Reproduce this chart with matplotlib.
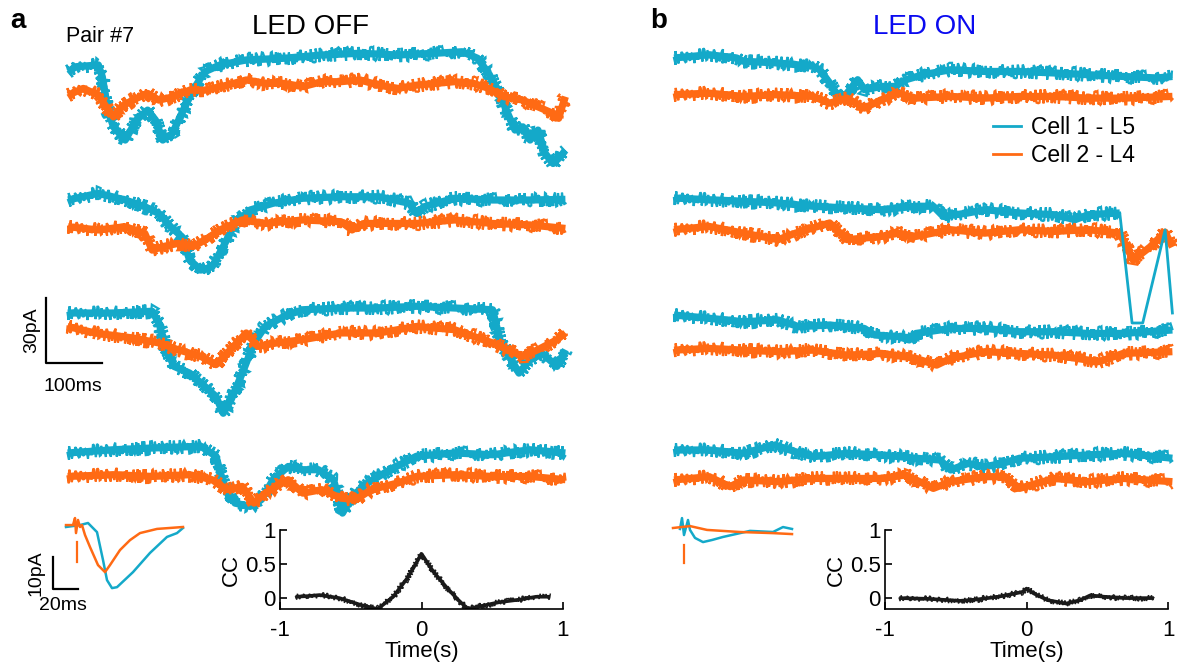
import numpy as np
import matplotlib
matplotlib.use("Agg")
import matplotlib.pyplot as plt
from matplotlib.lines import Line2D

plt.rcParams['font.family'] = ['Liberation Sans', 'DejaVu Sans']
plt.rcParams['axes.unicode_minus'] = False

W, H = 1177, 671
CYAN = "#14A9C9"
ORANGE = "#FF6A14"

# ---- LED OFF sweeps: time (ms), current (pA, relative to cell 1 start) ----
a1_c_t = [2, 16, 56, 63, 73, 83, 104, 124, 144, 158, 171, 188, 205, 225, 246, 273, 320, 388, 455, 523, 591, 658, 706, 733, 753, 773, 787, 800, 814, 827, 841, 854, 868, 881, 890]
a1_c_v = [0, 2.3, 3.1, -2.3, -17.7, -25.4, -31.5, -22.3, -17.7, -22.3, -31.5, -28.5, -19.2, -8.5, 0, 3.1, 5.4, 6.2, 7.7, 8.5, 7.7, 8.5, 9.2, 6.2, -0.8, -10, -19.2, -26.9, -25.4, -31.5, -26.9, -37.7, -42.3, -39.2, -36.2]
a1_o_t = [2, 29, 56, 70, 83, 97, 117, 144, 164, 191, 219, 246, 286, 320, 354, 388, 421, 455, 489, 523, 557, 591, 624, 658, 692, 726, 753, 780, 814, 841, 868, 878, 884, 890]
a1_o_v = [-10.8, -7.7, -10.8, -16.2, -20.8, -16.2, -13.1, -10, -13.1, -11.5, -8.5, -8.5, -6.2, -3.8, -5.4, -5.4, -6.9, -4.6, -4.6, -3.8, -6.2, -7.7, -6.2, -5.4, -4.6, -5.4, -7.7, -11.5, -13.1, -16.2, -19.2, -21.5, -16.2, -11.5]

a2_c_t = [2, 56, 104, 139, 164, 185, 205, 219, 239, 259, 279, 300, 327, 368, 421, 489, 557, 611, 624, 638, 692, 760, 827, 890]
a2_c_v = [0, 3.1, 0, -3.1, -6.2, -12.3, -16.9, -27.7, -32.3, -30.8, -21.5, -10.8, -4.6, -1.5, 0.8, 1.5, 1.5, -1.5, -6.2, -3.1, 0.8, 0, 0, 0.3]
a2_o_t = [2, 56, 104, 139, 152, 171, 198, 225, 246, 273, 313, 354, 421, 489, 509, 530, 624, 692, 760, 827, 890]
a2_o_v = [-12.3, -13.8, -12.3, -15.4, -23.1, -21.5, -20, -21.5, -18.5, -13.8, -9.2, -10.8, -9.2, -10, -13.8, -10.8, -10.8, -9.2, -10.8, -11.5, -13.1]

a3_c_t = [1, 83, 152, 164, 178, 191, 219, 246, 266, 279, 293, 313, 334, 354, 388, 421, 489, 557, 624, 692, 760, 773, 787, 807, 827, 848, 875, 890]
a3_c_v = [0, 0, 0.8, -4.6, -16.9, -24.6, -27.7, -33.8, -38.5, -46.2, -40, -27.7, -13.8, -6.2, -1.5, 1.5, 2.3, 2.3, 3.1, 2.3, 1.5, -12.3, -18.5, -27.7, -21.5, -18.5, -24.6, -16.9]
a3_o_t = [1, 50, 117, 164, 198, 239, 266, 286, 320, 341, 374, 421, 489, 557, 624, 692, 760, 814, 841, 875, 890]
a3_o_v = [-6.2, -9.2, -11.5, -13.8, -16.9, -20, -23.8, -18.5, -9.2, -15.4, -13.8, -12.3, -9.2, -9.2, -6.2, -7.7, -13.8, -20, -16.9, -12.3, -9.2]

a4_c_t = [1, 83, 152, 239, 266, 279, 300, 327, 347, 368, 395, 421, 449, 476, 492, 509, 537, 577, 624, 692, 760, 827, 890]
a4_c_v = [0, 1.5, 2.3, 3.1, -1.5, -13.8, -23.1, -24.6, -21.5, -12.3, -6.2, -7.7, -7.7, -12.3, -27.7, -20, -13.8, -7.7, -1.5, 0, -0.8, 1.5, 0]
a4_o_t = [1, 83, 152, 219, 259, 286, 313, 334, 354, 395, 421, 455, 489, 516, 543, 591, 624, 692, 760, 827, 890]
a4_o_v = [-10.8, -10, -10.8, -10, -12.3, -16.9, -15.4, -23.1, -18.5, -12.3, -18.5, -16.9, -20.8, -21.5, -16.9, -13.8, -10.8, -10, -10.8, -10.8, -12.3]

# ---- LED ON sweeps ----
b1_c_t = [0, 63, 112, 124, 186, 248, 260, 278, 297, 309, 328, 340, 371, 395, 414, 445, 494, 555, 617, 679, 740, 802, 863, 890]
b1_c_v = [0, 1.5, 0, -1.5, -2.3, -3.8, -5.4, -11.5, -19.2, -16.2, -10, -14.6, -13.1, -13.1, -10, -7.7, -5.4, -6.2, -6.2, -6.9, -7.7, -8.5, -9.2, -8.5]
b1_o_t = [0, 63, 124, 186, 248, 278, 309, 340, 371, 401, 432, 494, 555, 617, 679, 740, 802, 890]
b1_o_v = [-16.9, -16.2, -17.7, -16.9, -17.7, -20.8, -18.5, -23.1, -19.2, -16.2, -18.5, -17.7, -18.5, -17.7, -17.7, -18.5, -18.5, -17.7]

b2_c_t = [0, 63, 124, 186, 248, 309, 371, 432, 463, 481, 525, 555, 617, 679, 716, 740, 796, 818, 837, 877, 890]
b2_c_v = [0, -0.8, -1.5, -2.3, -3.8, -4.6, -5.4, -3.8, -3.8, -8.5, -6.9, -5.4, -6.9, -7.7, -10, -7.7, -6.9, -57.6, -57.6, -14.7, -53]
b2_o_t = [0, 63, 124, 186, 217, 278, 309, 371, 401, 432, 494, 555, 617, 679, 740, 796, 820, 850, 877, 890]
b2_o_v = [-14.6, -13.1, -16.2, -19.2, -16.2, -11.5, -19.2, -17.7, -16.2, -17.7, -14.6, -16.2, -14.6, -15.4, -14.6, -16.2, -28.6, -22.6, -15.7, -22.6]
b2_fast_from = 16  # index where the fast cell-1 excursion starts

b3_c_t = [0, 63, 124, 186, 223, 278, 340, 358, 401, 420, 432, 494, 555, 617, 679, 740, 802, 890]
b3_c_v = [0, -1.5, -3.1, -2.3, -5.4, -4.6, -6.2, -9.2, -10, -11.5, -8.5, -6.2, -6.2, -7.7, -7.7, -8.5, -8.5, -6.9]
b3_o_t = [0, 63, 124, 186, 248, 309, 371, 432, 469, 494, 555, 617, 679, 759, 802, 890]
b3_o_v = [-16.2, -15.4, -16.2, -16.9, -16.2, -18.5, -17.7, -20, -23.1, -20, -16.9, -17.7, -18.5, -21.5, -17.7, -16.9]

b4_c_t = [0, 63, 124, 180, 217, 248, 309, 371, 432, 475, 494, 525, 555, 586, 617, 679, 740, 802, 890]
b4_c_v = [0, 0, -1.5, 2.3, -0.8, -3.1, -1.5, -2.3, -3.8, -4.6, -9.2, -6.2, -7.7, -6.2, -3.8, -3.1, -2.3, -1.5, -3.8]
b4_o_t = [0, 63, 100, 124, 186, 248, 309, 371, 414, 463, 494, 555, 592, 617, 648, 679, 740, 802, 890]
b4_o_v = [-13.8, -12.3, -16.9, -13.8, -14.6, -13.1, -13.1, -13.1, -11.5, -17.7, -14.6, -12.3, -12.3, -17.7, -15.4, -13.1, -14.6, -13.1, -14.6]

# ---- average unitary responses (ms, pA) ----
ia_c_t = [0, 11.2, 17.6, 24.8, 29.6, 32.8, 36.8, 40.8, 53.6, 67.2, 80.8, 88.8, 93.6]
ia_c_v = [0, 0.6, 1.25, -1.6, -10.3, -16.6, -19.1, -18.8, -14.1, -8.1, -3.1, -1.9, -0.3]
ia_o_t = [0, 5.6, 7.2, 8.0, 9.6, 11.2, 12.8, 15.2, 19.2, 25.6, 31.2, 35.2, 43.2, 51.2, 59.2, 72.8, 83.2, 93.6]
ia_o_v = [0.6, 0.6, 2.8, -1.9, 2.2, 0, 0.6, -2.5, -6.25, -11.9, -14.1, -11.9, -7.2, -4.1, -1.9, -0.6, -0.3, 0]

ib_c_t = [5.6, 7.2, 8.8, 12, 13.6, 17.6, 24, 31.2, 40, 61.6, 80, 88, 95.2]
ib_c_v = [-0.3, 3.1, -2.2, 2.5, -0.6, -3.1, -4.4, -3.75, -2.8, -0.9, -1.25, 0.3, -0.3]
ib_o_t = [0, 13.6, 27.2, 53.6, 80, 95.2]
ib_o_v = [0, 0.6, -0.6, -1.25, -1.6, -1.9]

# ---- cross-correlograms ----
cc_a_lag = [-0.89, -0.8, -0.72, -0.58, -0.43, -0.31, -0.2, -0.105, -0.058, 0.0, 0.083, 0.18, 0.27, 0.33, 0.39, 0.55, 0.70, 0.81, 0.91]
cc_a_val = [0.02, 0.03, 0.045, 0.0, -0.10, -0.16, 0.02, 0.28, 0.44, 0.65, 0.39, 0.15, -0.05, -0.16, -0.13, -0.06, -0.02, 0.02, 0.02]
cc_b_lag = [-0.9, -0.7, -0.55, -0.47, -0.35, -0.2, -0.1, -0.03, 0.0, 0.05, 0.15, 0.28, 0.38, 0.45, 0.55, 0.7, 0.9]
cc_b_val = [0.0, -0.01, -0.03, -0.04, -0.02, 0.02, 0.06, 0.09, 0.14, 0.07, -0.03, -0.08, -0.03, 0.04, 0.02, 0.0, 0.0]

sweeps_a = [(a1_c_t, a1_c_v, a1_o_t, a1_o_v), (a2_c_t, a2_c_v, a2_o_t, a2_o_v),
            (a3_c_t, a3_c_v, a3_o_t, a3_o_v), (a4_c_t, a4_c_v, a4_o_t, a4_o_v)]
sweeps_b = [(b1_c_t, b1_c_v, b1_o_t, b1_o_v), (b2_c_t[:b2_fast_from + 1], b2_c_v[:b2_fast_from + 1], b2_o_t, b2_o_v),
            (b3_c_t, b3_c_v, b3_o_t, b3_o_v), (b4_c_t, b4_c_v, b4_o_t, b4_o_v)]

fig = plt.figure(figsize=(W / 100, H / 100), dpi=100)


def fx(px):
    return px / W


def fy(py):
    return 1 - py / H


def overlay(x0, y0, px_ms, px_pa):
    # transparent full-figure axes; (x0, y0) is where t=0, I=0 lands
    ax = fig.add_axes([0, 0, 1, 1])
    ax.set_xlim(-x0 / px_ms, (W - x0) / px_ms)
    ax.set_ylim((y0 - H) / px_pa, y0 / px_pa)
    ax.axis('off')
    return ax


def noisy(ax, t, v, color, core=5.2, fuzz=1.6, scale=7.0, length=0.6):
    # solid core plus a jittered thin stroke for the recording noise
    ax.plot(t, v, color=color, lw=core, solid_joinstyle='round', solid_capstyle='butt')
    ln, = ax.plot(t, v, color=color, lw=fuzz, solid_joinstyle='miter')
    ln.set_sketch_params(scale=scale, length=length, randomness=6)


PX_MS, PX_PA = 0.56, 2.17
rows_a = [71.7, 200, 313, 453]
rows_b = [58, 198, 315, 450]

ax_a = overlay(67, 0, PX_MS, PX_PA)
for (ct, cv, ot, ov), row in zip(sweeps_a, rows_a):
    off = -row / PX_PA
    noisy(ax_a, ct, np.add(cv, off), CYAN)
    noisy(ax_a, ot, np.add(ov, off), ORANGE)

ax_b = overlay(674, 0, PX_MS, PX_PA)
for (ct, cv, ot, ov), row in zip(sweeps_b, rows_b):
    off = -row / PX_PA
    noisy(ax_b, ct, np.add(cv, off), CYAN)
    noisy(ax_b, ot, np.add(ov, off), ORANGE)

# fast cell-1 swing at the end of the second LED ON sweep: thin stroke
ax_b.plot(b2_c_t[b2_fast_from:], np.add(b2_c_v[b2_fast_from:], -rows_b[1] / PX_PA),
          color=CYAN, lw=2.0, zorder=3)

# 100 ms / 30 pA scale bar
sb_t, sb_v = -37.5, -363 / PX_PA
ax_a.plot([sb_t, sb_t, sb_t + 100], [sb_v + 30, sb_v, sb_v], color='black', lw=1.6)

# average responses
ins_a = overlay(66, 527, 1.25, 3.2)
ins_a.plot(ia_c_t, ia_c_v, color=CYAN, lw=1.8)
ins_a.plot(ia_o_t, ia_o_v, color=ORANGE, lw=1.8)
ins_a.plot([8.8, 8.8], [-4.7, -10.9], color=ORANGE, lw=1.6)
ins_a.plot([-10.4, -10.4, 9.6], [-9.4, -19.4, -19.4], color='black', lw=1.6)

ins_b = overlay(673, 528, 1.25, 3.2)
ins_b.plot(ib_c_t, ib_c_v, color=CYAN, lw=1.8)
ins_b.plot(ib_o_t, ib_o_v, color=ORANGE, lw=1.8)
ins_b.plot([8.8, 8.8], [-5.3, -10.9], color=ORANGE, lw=1.6)

# cross-correlograms
for left, lag, val in [(280, cc_a_lag, cc_a_val), (885, cc_b_lag, cc_b_val)]:
    ax = fig.add_axes([fx(left), fy(609), 283 / W, 79 / H])
    noisy(ax, lag, val, '#1a1a1a', core=2.6, fuzz=1.0, scale=3.0, length=0.6)
    ax.set_xlim(-1, 1)
    ax.set_ylim(-0.16, 1.0)
    ax.set_xticks([-1, 0, 1])
    ax.set_xticklabels(['-1', '0', '1'])
    ax.set_yticks([0, 0.5, 1])
    ax.set_yticklabels(['0', '0.5', '1'])
    ax.spines[['top', 'right']].set_visible(False)
    for s in ['left', 'bottom']:
        ax.spines[s].set_linewidth(1.2)
    ax.tick_params(direction='in', length=5, width=1.2, labelsize=16)
    ax.tick_params(axis='x', pad=8)
    ax.tick_params(axis='y', pad=3)
    ax.set_xlabel('Time(s)', fontsize=16, labelpad=0)
    ax.set_ylabel('CC', fontsize=16, labelpad=2)
    ax.patch.set_alpha(0)

# labels
fig.text(fx(10), fy(21), 'a', fontsize=20, fontweight='bold', va='center', ha='left')
fig.text(fx(650), fy(21), 'b', fontsize=20, fontweight='bold', va='center', ha='left')
fig.text(fx(66), fy(37), 'Pair #7', fontsize=15.5, va='center', ha='left')
fig.text(fx(311), fy(27), 'LED OFF', fontsize=20, va='center', ha='center')
fig.text(fx(925), fy(27), 'LED ON', fontsize=20, va='center', ha='center', color='#0A0AF0')
fig.text(fx(32), fy(330), '30pA', fontsize=14, rotation=90, va='center', ha='center')
fig.text(fx(73), fy(386), '100ms', fontsize=14, va='center', ha='center')
fig.text(fx(36), fy(573), '10pA', fontsize=14, rotation=90, va='center', ha='center')
fig.text(fx(63), fy(606), '20ms', fontsize=14, va='center', ha='center')

handles = [Line2D([], [], color=CYAN, lw=2), Line2D([], [], color=ORANGE, lw=2)]
fig.legend(handles, ['Cell 1 - L5', 'Cell 2 - L4'], loc='upper left',
           bbox_to_anchor=(fx(993), fy(116)), frameon=False, fontsize=16.5,
           handlelength=1.2, handletextpad=0.45, labelspacing=0.22,
           borderpad=0, borderaxespad=0)

fig.savefig('out.png', dpi=100)
